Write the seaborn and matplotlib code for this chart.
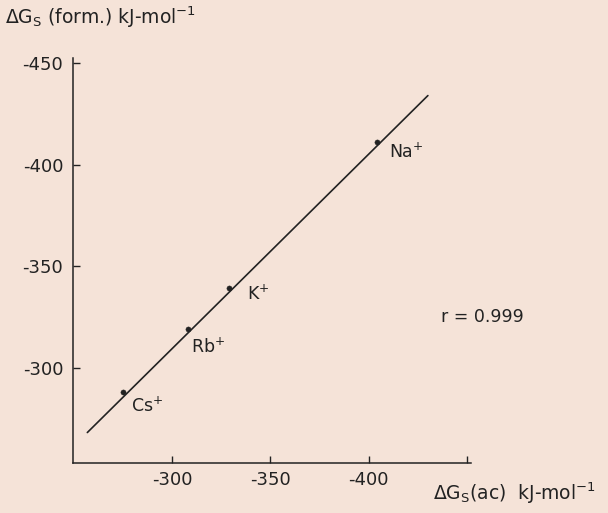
import matplotlib
matplotlib.use("Agg")
import matplotlib.pyplot as plt
import seaborn as sns
import pandas as pd

# Data
ions = ["Cs$^{+}$", "Rb$^{+}$", "K$^{+}$", "Na$^{+}$"]
dg_ac = [-275, -308, -329, -404]          # x: ΔGs(ac)
dg_form = [-288, -319, -339, -411]        # y: ΔGs(form.)
fit_x = [-257, -430]                      # regression line ends
fit_y = [-268, -434]
x_ticks = [-300, -350, -400, -450]
x_tick_labels = ["-300", "-350", "-400", ""]
y_ticks = [-450, -400, -350, -300]
y_tick_labels = ["-450", "-400", "-350", "-300"]
r_text = "r = 0.999"

df = pd.DataFrame({"ion": ions, "x": dg_ac, "y": dg_form})
fit = pd.DataFrame({"x": fit_x, "y": fit_y})

sns.set_style("ticks")
bg = "#f5e3d8"
ink = "#222222"
plt.rcParams["font.family"] = ["DejaVu Sans"]

fig = plt.figure(figsize=(6.08, 5.13), dpi=100, facecolor=bg)
ax = fig.add_axes([0.120, 0.0975, 0.655, 0.789])
ax.set_facecolor(bg)

sns.lineplot(data=fit, x="x", y="y", ax=ax, color=ink, linewidth=1.2, sort=False)
sns.scatterplot(data=df, x="x", y="y", ax=ax, color=ink, s=14, edgecolor=ink, zorder=3)

ax.set_xlim(-249.7, -452)
ax.set_ylim(-253, -452.4)

ax.set_xticks(x_ticks)
ax.set_xticklabels(x_tick_labels)
ax.set_yticks(y_ticks)
ax.set_yticklabels(y_tick_labels)
ax.tick_params(direction="in", length=5, width=1, colors=ink, labelsize=13, pad=6)
ax.tick_params(axis="y", pad=7)

sns.despine(ax=ax)
for s in ["left", "bottom"]:
    ax.spines[s].set_color(ink)
    ax.spines[s].set_linewidth(1.1)

ax.set_xlabel("")
ax.set_ylabel("")

offsets = {0: (6, -10), 1: (2, -13), 2: (13, -4), 3: (9, -7)}
for i, row in df.iterrows():
    dx, dy = offsets[i]
    ax.annotate(row["ion"], (row["x"], row["y"]), xytext=(dx, dy),
                textcoords="offset points", fontsize=12.5, color=ink,
                ha="left", va="center")

ax.text(0.925, 0.36, r_text, transform=ax.transAxes, fontsize=12.5, color=ink,
        ha="left", va="center")

fig.text(5 / 608, 1 - 17 / 513, "ΔG$_\\mathrm{S}$ (form.) kJ-mol$^{-1}$", fontsize=13.5,
         color=ink, ha="left", va="center")
fig.text(433 / 608, 1 - 493 / 513, "ΔG$_\\mathrm{S}$(ac)  kJ-mol$^{-1}$", fontsize=13.5,
         color=ink, ha="left", va="center")

fig.savefig("out.png", dpi=100, facecolor=bg)
